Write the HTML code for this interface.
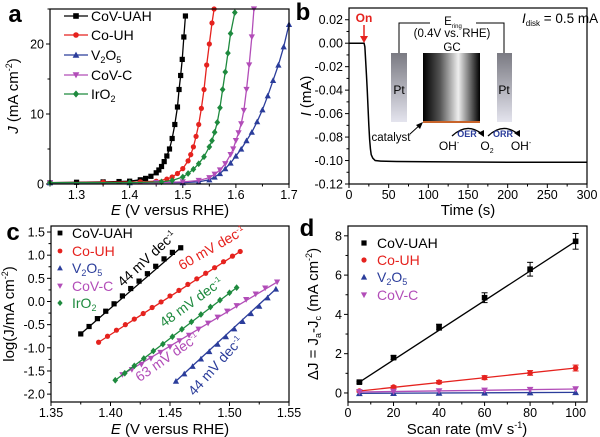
<!DOCTYPE html>
<html><head><meta charset="utf-8"><style>
html,body{margin:0;padding:0;background:#fff;}
svg{display:block;font-family:"Liberation Sans",Arial,sans-serif;}
</style></head><body>
<svg id="fig" width="600" height="437" viewBox="0 0 600 437">
<defs>
<linearGradient id="ptg" x1="0" y1="0" x2="0" y2="1"><stop offset="0" stop-color="#7a7a82"/><stop offset="1" stop-color="#e4e4ee"/></linearGradient>
<linearGradient id="gcg" x1="0" y1="0" x2="1" y2="0"><stop offset="0" stop-color="#000"/><stop offset="0.3" stop-color="#555"/><stop offset="0.62" stop-color="#eee"/><stop offset="1" stop-color="#000"/></linearGradient>
</defs>
</svg>
<script>
// ---------- Panel a data ----------
const aLabels=["CoV-UAH","Co-UH","V2O5","CoV-C","IrO2"];
const aE_CoVUAH=[1.25,1.30,1.35,1.38,1.40,1.42,1.43,1.44,1.45,1.455,1.46,1.465,1.47,1.475,1.48,1.485,1.49,1.493,1.496,1.499,1.502,1.505];
const aJ_CoVUAH=[0.2,0.25,0.3,0.35,0.4,0.6,0.8,1.1,1.6,2.0,2.5,3.2,4.0,5.0,6.5,8.5,11,13.5,15.5,17.8,21,24];
const aE_CoUH=[1.25,1.35,1.42,1.45,1.47,1.48,1.49,1.50,1.51,1.515,1.52,1.525,1.53,1.535,1.54,1.545,1.55,1.555,1.559];
const aJ_CoUH=[0.2,0.25,0.3,0.4,0.7,1.0,1.5,2.2,3.3,4.2,5.3,6.8,8.5,10.8,13.5,17,20,23,25];
const aE_V2O5=[1.25,1.40,1.50,1.53,1.55,1.56,1.57,1.58,1.59,1.60,1.61,1.62,1.63,1.64,1.65,1.66,1.67,1.68,1.69,1.70];
const aJ_V2O5=[0.2,0.2,0.2,0.3,0.6,1.0,1.5,2.2,3.0,4.0,5.0,6.2,7.4,8.9,10.6,12.6,14.8,17,19.6,22.8];
const aE_CoVC=[1.25,1.45,1.50,1.53,1.55,1.56,1.57,1.58,1.59,1.595,1.60,1.605,1.61,1.615,1.62,1.625,1.63,1.634];
const aJ_CoVC=[0.2,0.2,0.3,0.5,0.9,1.4,2.0,2.9,4.2,5.0,6.2,7.3,8.6,10.5,13.5,17,21,25];
const aE_IrO2=[1.25,1.40,1.46,1.48,1.50,1.51,1.52,1.53,1.54,1.55,1.555,1.56,1.565,1.57,1.575,1.58,1.585,1.59,1.598];
const aJ_IrO2=[0.2,0.2,0.3,0.5,1.0,1.5,2.1,2.9,3.9,5.3,6.2,7.4,8.8,10.9,13.5,16,18.7,21.5,24.5];
const aXTicks=[1.3,1.4,1.5,1.6,1.7];
const aYTicks=[0,10,20];
// ---------- Panel b data ----------
const bT=[0,10,19,20,21,22,23,24,25,26,27,28,30,33,40,60,100,150,200,250,300];
const bI=[0,0,0,-0.003,-0.015,-0.027,-0.04,-0.055,-0.07,-0.082,-0.09,-0.095,-0.098,-0.1,-0.1005,-0.1008,-0.101,-0.1012,-0.1015,-0.1015,-0.1015];
const bXTicks=[0,50,100,150,200,250,300];
const bYTicks=[0.02,0,-0.02,-0.04,-0.06,-0.08,-0.10,-0.12];
const bYTickLabels=["0.02","0.00","-0.02","-0.04","-0.06","-0.08","-0.10","-0.12"];
// ---------- Panel c data ----------
const cE_CoVUAH=[1.375,1.382,1.389,1.396,1.403,1.410,1.417,1.424,1.431,1.438,1.445,1.452,1.459];
const cL_CoVUAH=[-0.70,-0.54,-0.37,-0.21,-0.05,0.12,0.28,0.44,0.60,0.76,0.92,1.06,1.16];
const cE_CoUH=[1.390,1.3975,1.405,1.4125,1.420,1.4275,1.435,1.4425,1.450,1.4575,1.465,1.4725,1.480,1.4875,1.495,1.5025,1.509];
const cL_CoUH=[-0.88,-0.75,-0.62,-0.50,-0.38,-0.26,-0.13,-0.01,0.12,0.24,0.37,0.49,0.61,0.73,0.86,0.98,1.08];
const cE_V2O5=[1.455,1.462,1.469,1.476,1.483,1.490,1.497,1.504,1.511,1.518,1.525,1.532,1.539];
const cL_V2O5=[-1.72,-1.56,-1.40,-1.24,-1.08,-0.92,-0.76,-0.59,-0.43,-0.26,-0.10,0.08,0.27];
const cE_CoVC=[1.410,1.418,1.426,1.434,1.442,1.450,1.458,1.466,1.474,1.482,1.490,1.498,1.506,1.514,1.522,1.530,1.540];
const cL_CoVC=[-1.58,-1.47,-1.36,-1.23,-1.10,-0.98,-0.85,-0.73,-0.60,-0.47,-0.34,-0.21,-0.09,0.04,0.16,0.29,0.42];
const cE_IrO2=[1.404,1.412,1.420,1.428,1.436,1.444,1.452,1.460,1.468,1.476,1.484,1.492,1.500,1.506];
const cL_IrO2=[-1.70,-1.55,-1.39,-1.23,-1.07,-0.92,-0.76,-0.60,-0.44,-0.28,-0.12,0.03,0.19,0.30];
const cXTicks=[1.35,1.40,1.45,1.50,1.55];
const cXTickLabels=["1.35","1.40","1.45","1.50","1.55"];
const cYTicks=[1.5,1.0,0.5,0.0,-0.5,-1.0,-1.5,-2.0];
const cYTickLabels=["1.5","1.0","0.5","0.0","-0.5","-1.0","-1.5","-2.0"];
// ---------- Panel d data ----------
const dRate=[5,20,40,60,80,100];
const dCoVUAH=[0.55,1.8,3.35,4.85,6.3,7.72];
const dCoVUAHErr=[0.05,0.1,0.15,0.25,0.35,0.4];
const dCoUH=[0.1,0.3,0.55,0.78,1.02,1.27];
const dCoUHErr=[0.05,0.06,0.08,0.1,0.12,0.15];
const dV2O5=[-0.02,-0.01,0,0.01,0.02,0.03];
const dCoVC=[0.05,0.07,0.1,0.13,0.17,0.2];
const dXTicks=[0,20,40,60,80,100];
const dYTicks=[0,2,4,6,8];

const NS="http://www.w3.org/2000/svg";
const svg=document.getElementById('fig');
const C={k:"#000",r:"#e5221e",b:"#2b3d9b",m:"#b24db8",g:"#1e8a3e"};
const TICK=12.5;
function el(tag,attrs,parent){const e=document.createElementNS(NS,tag);for(const k in attrs)e.setAttribute(k,attrs[k]);(parent||svg).appendChild(e);return e;}
function txt(s,x,y,size,anchor,parent,fill){const t=el('text',{x:x,y:y,'font-size':size,'text-anchor':anchor||'middle',fill:fill||'#000'},parent);t.innerHTML=s;return t;}
function lin(d0,d1,p0,p1){return v=>p0+(v-d0)*(p1-p0)/(d1-d0);}
function marker(shape,x,y,s,col,g){
  let m;
  if(shape==='sq')m=el('rect',{x:x-s,y:y-s,width:2*s,height:2*s,fill:col},g);
  else if(shape==='ci')m=el('circle',{cx:x,cy:y,r:s,fill:col},g);
  else if(shape==='up')m=el('polygon',{points:`${x},${y-s*1.2} ${x-s*1.2},${y+s} ${x+s*1.2},${y+s}`,fill:col},g);
  else if(shape==='dn')m=el('polygon',{points:`${x},${y+s*1.2} ${x-s*1.2},${y-s} ${x+s*1.2},${y-s}`,fill:col},g);
  else m=el('polygon',{points:`${x},${y-s*1.3} ${x+s*1.1},${y} ${x},${y+s*1.3} ${x-s*1.1},${y}`,fill:col},g);
  
  
  return m;
}
function frame(g,L,T,R,B){el('rect',{x:L,y:T,width:R-L,height:B-T,fill:'none',stroke:'#000','stroke-width':1.2},g);}
function xTicks(g,vals,labels,sx,B,minor){
  vals.forEach((v,i)=>{const x=sx(v);el('line',{x1:x,y1:B,x2:x,y2:B+4,stroke:'#000'},g);txt(labels[i],x,B+15,TICK,'middle',g);});
  (minor||[]).forEach(v=>{const x=sx(v);el('line',{x1:x,y1:B,x2:x,y2:B+2.5,stroke:'#000'},g);});
}
function yTicks(g,vals,labels,sy,L,minor){
  vals.forEach((v,i)=>{const y=sy(v);el('line',{x1:L-4,y1:y,x2:L,y2:y,stroke:'#000'},g);txt(labels[i],L-6,y+4.5,TICK,'end',g);});
  (minor||[]).forEach(v=>{const y=sy(v);el('line',{x1:L-2.5,y1:y,x2:L,y2:y,stroke:'#000'},g);});
}
function poly(g,xs,ys,sx,sy,col,w){return el('polyline',{points:xs.map((v,i)=>sx(v)+','+sy(ys[i])).join(' '),fill:'none',stroke:col,'stroke-width':w||1.3},g);}
function group(name){const g=el('g',{});return g;}
function mids(vals){const r=[];for(let i=0;i<vals.length-1;i++)r.push((vals[i]+vals[i+1])/2);return r;}

// ================= Panel a =================
(function(){
  const g=group('panel-a');
  const L=50,R=289,T=9,B=184;
  const sx=lin(1.25,1.7,L,R), sy=lin(0,25,B,T);
  xTicks(g,aXTicks,aXTicks.map(v=>v.toFixed(1)),sx,B,[1.25,1.35,1.45,1.55,1.65]);
  yTicks(g,aYTicks,aYTicks.map(String),sy,L,[5,15,25]);
  const series=[[aE_CoVUAH,aJ_CoVUAH,C.k,'sq'],[aE_CoUH,aJ_CoUH,C.r,'ci'],[aE_V2O5,aJ_V2O5,C.b,'up'],[aE_CoVC,aJ_CoVC,C.m,'dn'],[aE_IrO2,aJ_IrO2,C.g,'di']];
  series.forEach((s,k)=>{
    const sg=el('g',{},g);
    
    
    poly(sg,s[0],s[1],sx,sy,s[2]);
    s[0].forEach((v,i)=>marker(s[3],sx(v),sy(s[1][i]),2.6,s[2],sg));
  });
  frame(g,L,T,R,B);
  const legTxt=["CoV-UAH","Co-UH","V<tspan font-size='9' dy='3'>2</tspan><tspan dy='-3'>O</tspan><tspan font-size='9' dy='3'>5</tspan>","CoV-C","IrO<tspan font-size='9' dy='3'>2</tspan>"];
  const legY=[16,35,55,75,94];
  series.forEach((s,i)=>{
    const lg=el('g',{},g);
    
    
    el('line',{x1:64,y1:legY[i],x2:88,y2:legY[i],stroke:s[2],'stroke-width':1.3},lg);
    marker(s[3],76,legY[i],2.8,s[2],lg);
    txt(legTxt[i],91,legY[i]+5,14,'start',lg);
  });
  const xl=txt("<tspan font-style='italic'>E</tspan> (V versus RHE)",170,215,15,'middle',g);
  
  const yl=txt("<tspan font-style='italic'>J</tspan> (mA cm<tspan font-size='9' dy='-6'>-2</tspan><tspan dy='6'>)</tspan>",0,0,15,'middle',g);
  yl.setAttribute('transform','translate(18,96) rotate(-90)');
  
  const lt=txt("a",15,22,24,'middle',g);lt.setAttribute('font-weight','bold');
  
})();

// ================= Panel b =================
(function(){
  const g=group('panel-b');
  const L=349,R=587,T=8,B=184;
  const sx=lin(0,300,L,R), sy=lin(-0.12,0.03,B,T);
  xTicks(g,bXTicks,bXTicks.map(String),sx,B,mids(bXTicks));
  yTicks(g,bYTicks,bYTickLabels,sy,L,[0.01,-0.01,-0.03,-0.05,-0.07,-0.09,-0.11]);
  const cg=el('g',{},g);
  
  poly(cg,bT,bI,sx,sy,'#000',1.5);
  frame(g,L,T,R,B);
  const ig=el('g',{},g);
  
  el('polyline',{points:'399,53 399,23 430,23',fill:'none',stroke:'#000','stroke-width':1},ig);
  el('polyline',{points:'476,23 504,23 504,53',fill:'none',stroke:'#000','stroke-width':1},ig);
  txt("E<tspan font-size='6' dy='3'>ring</tspan>",453,25,11.5,'middle',ig);
  txt("(0.4V vs. RHE)",452,37,11.5,'middle',ig);
  txt("GC",452,51,11.5,'middle',ig);
  el('rect',{x:391,y:53,width:16,height:69,fill:'url(#ptg)'},ig);
  el('rect',{x:497,y:53,width:15,height:69,fill:'url(#ptg)'},ig);
  txt("Pt",399,94,12,'middle',ig);txt("Pt",504,94,12,'middle',ig);
  el('rect',{x:423,y:53,width:57,height:69,fill:'url(#gcg)'},ig);
  el('rect',{x:423,y:121,width:57,height:2,fill:'#c8642a'},ig);
  txt("catalyst",391,141,11.5,'middle',ig);
  el('line',{x1:410,y1:134,x2:421,y2:124,stroke:'#000','stroke-width':1},ig);
  el('polygon',{points:'423,122 416,125 420,129',fill:'#000'},ig);
  el('path',{d:'M452,136 Q467,122 482,134',fill:'none',stroke:'#000','stroke-width':1.3},ig);
  el('polygon',{points:'484,137 478,133 484,130',fill:'#000'},ig);
  el('path',{d:'M488,136 Q503,122 518,134',fill:'none',stroke:'#000','stroke-width':1.3},ig);
  el('polygon',{points:'520,137 514,133 520,130',fill:'#000'},ig);
  const o1=txt("OER",467,137,9,'middle',ig,C.b);o1.setAttribute('font-weight','bold');
  const o2=txt("ORR",503,137,9,'middle',ig,C.b);o2.setAttribute('font-weight','bold');
  txt("OH<tspan font-size='7' dy='-5'>-</tspan>",449,150,12,'middle',ig);
  txt("O<tspan font-size='7' dy='3'>2</tspan>",487,150,12,'middle',ig);
  txt("OH<tspan font-size='7' dy='-5'>-</tspan>",521,150,12,'middle',ig);
  const on=txt("On",364,22,12,'middle',g,'#e5221e');on.setAttribute('font-weight','bold');
  
  el('line',{x1:364,y1:25,x2:364,y2:37,stroke:'#e5221e','stroke-width':1.5},g);
  el('polygon',{points:'360,36 368,36 364,43',fill:'#e5221e'},g);
  const id=txt("<tspan font-style='italic'>I</tspan><tspan font-size='8' dy='3'>disk</tspan><tspan dy='-3'> = 0.5 mA</tspan>",522,23,13.5,'start',g);
  
  const xl=txt("Time (s)",468,215,15,'middle',g);
  
  const yl=txt("<tspan font-style='italic'>I</tspan> (mA)",0,0,15,'middle',g);
  yl.setAttribute('transform','translate(311,96) rotate(-90)');
  
  const lt=txt("b",303,20,24,'middle',g);lt.setAttribute('font-weight','bold');
  
})();

// ================= Panel c =================
(function(){
  const g=group('panel-c');
  const L=51,R=289,T=226,B=402;
  const sx=lin(1.35,1.55,L,R), sy=lin(-2.17,1.63,B,T);
  xTicks(g,cXTicks,cXTickLabels,sx,B,mids(cXTicks));
  yTicks(g,cYTicks,cYTickLabels,sy,L,[1.25,0.75,0.25,-0.25,-0.75,-1.25,-1.75]);
  const series=[[cE_CoVUAH,cL_CoVUAH,C.k,'sq'],[cE_CoUH,cL_CoUH,C.r,'ci'],[cE_V2O5,cL_V2O5,C.b,'up'],[cE_CoVC,cL_CoVC,C.m,'dn'],[cE_IrO2,cL_IrO2,C.g,'di']];
  series.forEach((s,k)=>{
    const sg=el('g',{},g);
    
    
    const n=s[0].length-1;
    el('line',{x1:sx(s[0][0]),y1:sy(s[1][0]),x2:sx(s[0][n]),y2:sy(s[1][n]),stroke:s[2],'stroke-width':1.3},sg);
    s[0].forEach((v,i)=>marker(s[3],sx(v),sy(s[1][i]),2.6,s[2],sg));
  });
  frame(g,L,T,R,B);
  const slopes=[["44",150,262,-43,C.k],["60",214,252,-30,C.r],["48",194,306,-36,C.g],["63",170,361,-35,C.m],["44",219,369,-48,C.b]];
  slopes.forEach(s=>{
    const t=txt(s[0]+" mV dec<tspan font-size='8' dy='-5'>-1</tspan>",0,0,14,'middle',g,s[4]);
    t.setAttribute('transform',`translate(${s[1]},${s[2]}) rotate(${s[3]})`);
    
  });
  const legTxt=["CoV-UAH","Co-UH","V<tspan font-size='9' dy='3'>2</tspan><tspan dy='-3'>O</tspan><tspan font-size='9' dy='3'>5</tspan>","CoV-C","IrO<tspan font-size='9' dy='3'>2</tspan>"];
  const legY=[233,251,268,286,303];
  series.forEach((s,i)=>{
    const lg=el('g',{},g);
    
    marker(s[3],60,legY[i],2.4,s[2],lg);
    txt(legTxt[i],72,legY[i]+5,14,'start',lg,i===0?'#000':s[2]);
  });
  const xl=txt("<tspan font-style='italic'>E</tspan> (V versus RHE)",170,434,15,'middle',g);
  
  const yl=txt("log(J/mA cm<tspan font-size='9' dy='-6'>-2</tspan><tspan dy='6'>)</tspan>",0,0,15,'middle',g);
  yl.setAttribute('transform','translate(14,314) rotate(-90)');
  
  const lt=txt("c",13,240,24,'middle',g);lt.setAttribute('font-weight','bold');
  
})();

// ================= Panel d =================
(function(){
  const g=group('panel-d');
  const L=348,R=587,T=226,B=402;
  const sx=lin(0,105,L,R), sy=lin(-0.46,8.5,B,T);
  xTicks(g,dXTicks,dXTicks.map(String),sx,B,mids(dXTicks));
  yTicks(g,dYTicks,dYTicks.map(String),sy,L,[1,3,5,7]);
  const series=[[dCoVUAH,dCoVUAHErr,C.k,'sq'],[dCoUH,dCoUHErr,C.r,'ci'],[dV2O5,null,C.b,'up'],[dCoVC,null,C.m,'dn']];
  const names=["CoV-UAH","Co-UH","V2O5","CoV-C"];
  series.forEach((s,k)=>{
    const sg=el('g',{},g);
    
    
    const n=dRate.length-1;
    el('line',{x1:sx(dRate[0]),y1:sy(s[0][0]),x2:sx(dRate[n]),y2:sy(s[0][n]),stroke:s[2],'stroke-width':1.3},sg);
    dRate.forEach((r,i)=>{
      if(s[1]){const x=sx(r),y1=sy(s[0][i]-s[1][i]),y2=sy(s[0][i]+s[1][i]);
        el('line',{x1:x,y1:y1,x2:x,y2:y2,stroke:s[2],'stroke-width':1},sg);
        el('line',{x1:x-3,y1:y1,x2:x+3,y2:y1,stroke:s[2],'stroke-width':1},sg);
        el('line',{x1:x-3,y1:y2,x2:x+3,y2:y2,stroke:s[2],'stroke-width':1},sg);}
      marker(s[3],sx(r),sy(s[0][i]),2.8,s[2],sg);
    });
  });
  frame(g,L,T,R,B);
  const legTxt=["CoV-UAH","Co-UH","V<tspan font-size='9' dy='3'>2</tspan><tspan dy='-3'>O</tspan><tspan font-size='9' dy='3'>5</tspan>","CoV-C"];
  const legY=[243,260,277,295];
  series.forEach((s,i)=>{
    const lg=el('g',{},g);
    
    marker(s[3],364,legY[i],2.6,s[2],lg);
    txt(legTxt[i],377,legY[i]+5,14,'start',lg,i===0?'#000':s[2]);
  });
  const xl=txt("Scan rate (mV s<tspan font-size='9' dy='-6'>-1</tspan><tspan dy='6'>)</tspan>",467,434,15,'middle',g);
  
  const yl=txt("ΔJ = J<tspan font-size='9' dy='3'>a</tspan><tspan dy='-3'>-J</tspan><tspan font-size='9' dy='3'>c</tspan><tspan dy='-3'> (mA cm</tspan><tspan font-size='9' dy='-6'>-2</tspan><tspan dy='6'>)</tspan>",0,0,15,'middle',g);
  yl.setAttribute('transform','translate(318,314) rotate(-90)');
  
  const lt=txt("d",307,236,24,'middle',g);lt.setAttribute('font-weight','bold');
  
})();
</script>
</body></html>
